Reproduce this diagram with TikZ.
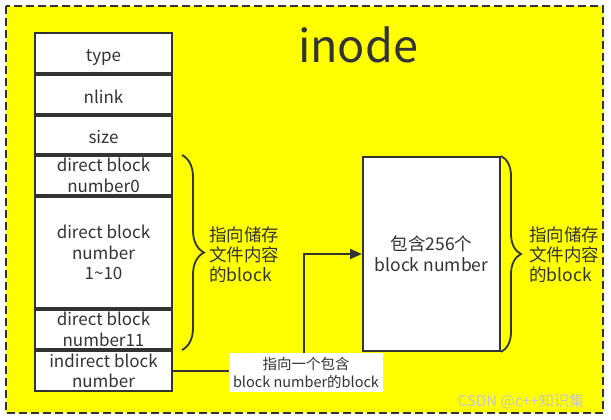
\documentclass[tikz,border=0pt]{standalone}
\usepackage{fontspec}
\setmainfont{Noto Sans CJK SC}
\usetikzlibrary{decorations.pathreplacing,arrows.meta}
\definecolor{ln}{HTML}{333333}
\definecolor{yel}{HTML}{FFFF00}
\begin{document}
\begin{tikzpicture}[x=1pt,y=-1pt,
  cell/.style={draw=ln, line width=2pt, fill=white, minimum width=137pt, inner sep=0pt,
    text=ln, font=\fontsize{17}{20.5}\selectfont},
  field/.style={cell, align=center},
  single/.style={cell, text height=17pt, text depth=0pt},
  conn/.style={draw=ln, line width=2pt, -{Triangle[length=12pt,width=10pt]}},
  bracestyle/.style={draw=ln, line width=1.8pt, decorate},
  note/.style={text=ln, align=left, anchor=west, inner sep=0pt, font=\fontsize{17.5}{20}\selectfont}]
\useasboundingbox (0,0) rectangle (611,420);
\fill[white] (0,0) rectangle (611,420);
\draw[ln, line width=2pt, dash pattern=on 8pt off 4pt, fill=yel] (6,6) rectangle (603,413);
\node[text=ln, font=\fontsize{45}{45}\selectfont] (title) at (358,45) {inode};
\node[single, minimum height=40pt] (type) at (103.5,53) {type};
\node[single, minimum height=39pt] (nlink) at (103.5,94.5) {nlink};
\node[single, minimum height=38pt] (size) at (103.5,135) {size};
\node[field, minimum height=39pt] (d0) at (103.5,175.5) {direct block\\number0};
\node[field, minimum height=111pt] (d1) at (103.5,252.5) {direct block\\number\\1\textasciitilde 10};
\node[field, minimum height=39pt] (d11) at (103.5,329.5) {direct block\\number11};
\node[field, minimum height=40pt] (ind) at (103.5,371) {indirect block\\number};
\node[field, minimum width=137pt, minimum height=194pt, font=\fontsize{17.5}{21}\selectfont] (box) at (431.5,254) {包含256个\\block number};
\coordinate (bend) at (304,254);
\draw[conn] (ind.east) -- (ind.east -| bend) -- (bend) -- (box.west);
\node[fill=white, minimum width=154pt, minimum height=39pt, inner sep=0pt, align=center, text=ln,
  font=\fontsize{14.5}{18}\selectfont] (lab) at (306,372.5) {指向一个包含\\block number的block};
\draw[bracestyle, decoration={brace, amplitude=22pt}] ([xshift=9pt]d0.north east) -- ([xshift=9pt]d11.south east);
\node[note] (n1) at (209,255) {指向储存\\文件内容\\的block};
\draw[bracestyle, decoration={brace, amplitude=20pt}] (box.north east) -- (box.south east);
\node[note] (n2) at (529,255) {指向储存\\文件内容\\的block};
\node[text=white!55!gray, font=\fontsize{15}{15}\selectfont, inner sep=0pt] (wm) at (521,401) {CSDN @c++知识集};
\end{tikzpicture}
\end{document}
